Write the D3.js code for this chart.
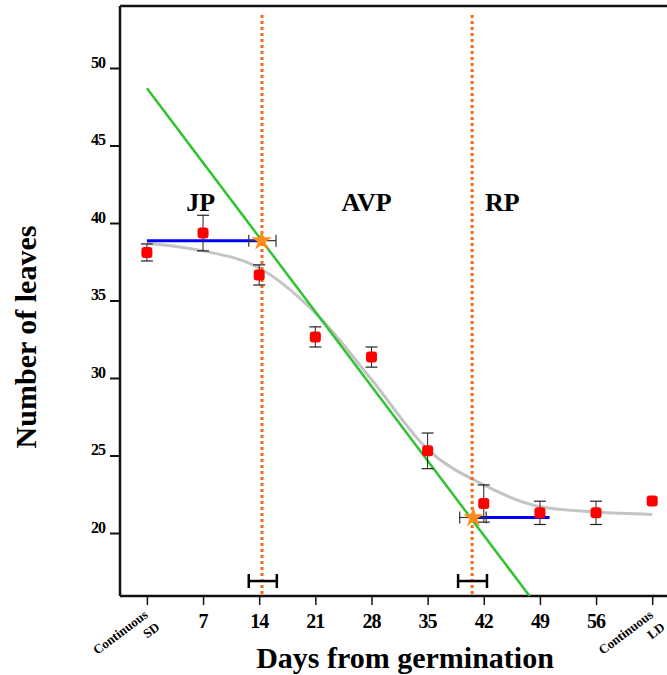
<!DOCTYPE html>
<html>
<head>
<meta charset="utf-8">
<script src="https://cdn.jsdelivr.net/npm/d3@7"></script>
<style>
  body { margin: 0; background: #fff; }
  text { font-family: "Liberation Serif", "DejaVu Serif", serif; font-weight: bold; fill: #000; }
</style>
</head>
<body>
<svg id="chart" width="667" height="675"></svg>
<script>
// measured leaf numbers
var days = [0, 7, 14, 21, 28, 35, 42, 49, 56, 63];
var leaves = [38.1, 39.35, 36.65, 32.65, 31.35, 25.3, 21.9, 21.3, 21.3, 22.06];
var errs = [0.55, 1.15, 0.65, 0.65, 0.65, 1.15, 1.2, 0.75, 0.75, 0];
// smoothed fit
var fitDays = [0, 7, 14, 21, 28, 35, 42, 49, 56, 63];
var fitLeaves = [38.7, 38.2, 37.1, 34.2, 29.9, 25.4, 23.1, 21.7, 21.35, 21.2];
// segmented regression
var slopeLine = [[0, 48.7], [47.7, 15.94]];
var plateau1 = [[0, 38.86], [14.3, 38.86]];
var plateau2 = [[40.7, 21.0], [50.2, 21.0]];
var breakpoints = [14.35, 40.55];
var breakStars = [[14.3, 38.86, 12.7, 16.1], [40.7, 21.0, 39.0, 42.3]];
var breakCI = [[12.7, 16.2], [38.8, 42.4]];
var phases = [["JP", 6.7], ["AVP", 27.4], ["RP", 44.3]];
var yTicks = [20, 25, 30, 35, 40, 45, 50];
var xTicks = [0, 7, 14, 21, 28, 35, 42, 49, 56, 63];
var xTickLabels = ["Continuous|SD", "7", "14", "21", "28", "35", "42", "49", "56", "Continuous|LD"];

var svg = d3.select("svg#chart"),
    plotL = 120, plotT = 6, plotB = 596, plotR = 667;

var x = d3.scaleLinear().domain([0, 63]).range([146.9, 652.2]);
var y = d3.scaleLinear().domain([20, 50]).range([533, 68]);

svg.append("defs").append("clipPath").attr("id", "plot")
  .append("rect").attr("x", plotL).attr("y", plotT).attr("width", plotR - plotL).attr("height", plotB - plotT);

// frame
svg.append("line").attr("x1", plotL).attr("x2", plotR).attr("y1", plotT).attr("y2", plotT)
  .attr("stroke", "#111").attr("stroke-width", 2.5);
svg.append("line").attr("x1", plotL).attr("x2", plotL).attr("y1", plotT).attr("y2", plotB)
  .attr("stroke", "#111").attr("stroke-width", 2.5);
svg.append("line").attr("x1", plotL).attr("x2", plotR).attr("y1", plotB).attr("y2", plotB)
  .attr("stroke", "#111").attr("stroke-width", 2.5);

// y axis
var yAxis = svg.append("g")
    .attr("transform", "translate(" + plotL + ",0)")
    .call(d3.axisLeft(y).tickValues(yTicks).tickSize(10).tickPadding(5));
yAxis.select(".domain").remove();
yAxis.selectAll(".tick line").attr("stroke", "#111").attr("stroke-width", 2);
yAxis.selectAll(".tick text")
    .attr("dy", "-0.05em")
    .style("font-family", "Liberation Serif, serif")
    .style("font-weight", "bold")
    .style("font-size", "16px")
    .style("letter-spacing", "-1px");

// x axis
var xAxis = svg.append("g")
    .attr("transform", "translate(0," + plotB + ")")
    .call(d3.axisBottom(x).tickValues(xTicks).tickSize(9).tickFormat(""));
xAxis.select(".domain").remove();
xAxis.selectAll(".tick line").attr("stroke", "#111").attr("stroke-width", 1.5);

xTicks.forEach(function(d, i) {
  var lab = xTickLabels[i];
  if (lab.indexOf("|") < 0) {
    svg.append("text")
      .attr("x", x(d)).attr("y", 628)
      .attr("text-anchor", "middle")
      .style("font-size", "20px")
      .style("letter-spacing", "-1px")
      .text(lab);
  } else {
    var parts = lab.split("|");
    var g = svg.append("g").attr("transform", "translate(" + (x(d) - 3) + ",610) rotate(-37)");
    g.append("text").attr("x", 0).attr("y", 8).attr("text-anchor", "end")
      .style("font-size", "13px").text(parts[0]);
    g.append("text").attr("x", 2).attr("y", 25).attr("text-anchor", "end")
      .style("font-size", "13px").text(parts[1]);
  }
});

// axis titles
svg.append("text")
  .attr("transform", "translate(36,337) rotate(-90)")
  .attr("text-anchor", "middle")
  .style("font-size", "30px")
  .text("Number of leaves");
svg.append("text")
  .attr("x", 405).attr("y", 668)
  .attr("text-anchor", "middle")
  .style("font-size", "30px")
  .text("Days from germination");

// phase labels
svg.selectAll(".phase").data(phases).enter().append("text")
  .attr("class", "phase")
  .attr("x", function(d) { return x(d[1]); })
  .attr("y", 211)
  .attr("text-anchor", "middle")
  .style("font-size", "26px")
  .text(function(d) { return d[0]; });

var plot = svg.append("g").attr("clip-path", "url(#plot)");
var line = d3.line().x(function(d) { return x(d[0]); }).y(function(d) { return y(d[1]); });

// smooth fit
plot.append("path")
  .attr("d", line.curve(d3.curveMonotoneX)(fitDays.map(function(d, i) { return [d, fitLeaves[i]]; })))
  .attr("fill", "none").attr("stroke", "#c4c4c4").attr("stroke-width", 3);
line.curve(d3.curveLinear);

// regression lines
plot.append("path").attr("d", line(slopeLine))
  .attr("fill", "none").attr("stroke", "#2ec42e").attr("stroke-width", 2.5);
[plateau1, plateau2].forEach(function(p) {
  plot.append("path").attr("d", line(p))
    .attr("fill", "none").attr("stroke", "#0000ff").attr("stroke-width", 3);
});

// breakpoint lines
plot.selectAll(".bp").data(breakpoints).enter().append("line")
  .attr("class", "bp")
  .attr("x1", function(d) { return x(d); }).attr("x2", function(d) { return x(d); })
  .attr("y1", 15).attr("y2", plotB)
  .attr("stroke", "#f06a20").attr("stroke-width", 3).attr("stroke-dasharray", "3,3");

// breakpoint confidence at bottom
breakCI.forEach(function(c) {
  var yy = y(16.9);
  plot.append("line").attr("x1", x(c[0])).attr("x2", x(c[1])).attr("y1", yy).attr("y2", yy)
    .attr("stroke", "#000").attr("stroke-width", 2.5);
  c.forEach(function(v) {
    plot.append("line").attr("x1", x(v)).attr("x2", x(v)).attr("y1", yy - 7).attr("y2", yy + 7)
      .attr("stroke", "#000").attr("stroke-width", 2.5);
  });
});

// error bars
days.forEach(function(d, i) {
  if (!errs[i]) return;
  var cx = x(d), y0 = y(leaves[i] - errs[i]), y1 = y(leaves[i] + errs[i]);
  plot.append("line").attr("x1", cx).attr("x2", cx).attr("y1", y0).attr("y2", y1)
    .attr("stroke", "#222").attr("stroke-width", 1);
  [y0, y1].forEach(function(yy) {
    plot.append("line").attr("x1", cx - 6).attr("x2", cx + 6).attr("y1", yy).attr("y2", yy)
      .attr("stroke", "#222").attr("stroke-width", 1.2);
  });
});

// points
plot.selectAll(".pt").data(days).enter().append("rect")
  .attr("class", "pt")
  .attr("x", function(d) { return x(d) - 5.5; })
  .attr("y", function(d, i) { return y(leaves[i]) - 5.5; })
  .attr("width", 11).attr("height", 11).attr("rx", 3)
  .attr("fill", "#ff0000");

// breakpoint stars with horizontal error bars
breakStars.forEach(function(s) {
  var yy = y(s[1]);
  plot.append("line").attr("x1", x(s[2])).attr("x2", x(s[3])).attr("y1", yy).attr("y2", yy)
    .attr("stroke", "#333").attr("stroke-width", 1.2);
  [s[2], s[3]].forEach(function(v) {
    plot.append("line").attr("x1", x(v)).attr("x2", x(v)).attr("y1", yy - 6).attr("y2", yy + 6)
      .attr("stroke", "#333").attr("stroke-width", 1.2);
  });
  plot.append("path")
    .attr("transform", "translate(" + x(s[0]) + "," + yy + ")")
    .attr("d", d3.symbol().type(d3.symbolStar).size(130)())
    .attr("fill", "#ff8c1a");
});
</script>
</body>
</html>
